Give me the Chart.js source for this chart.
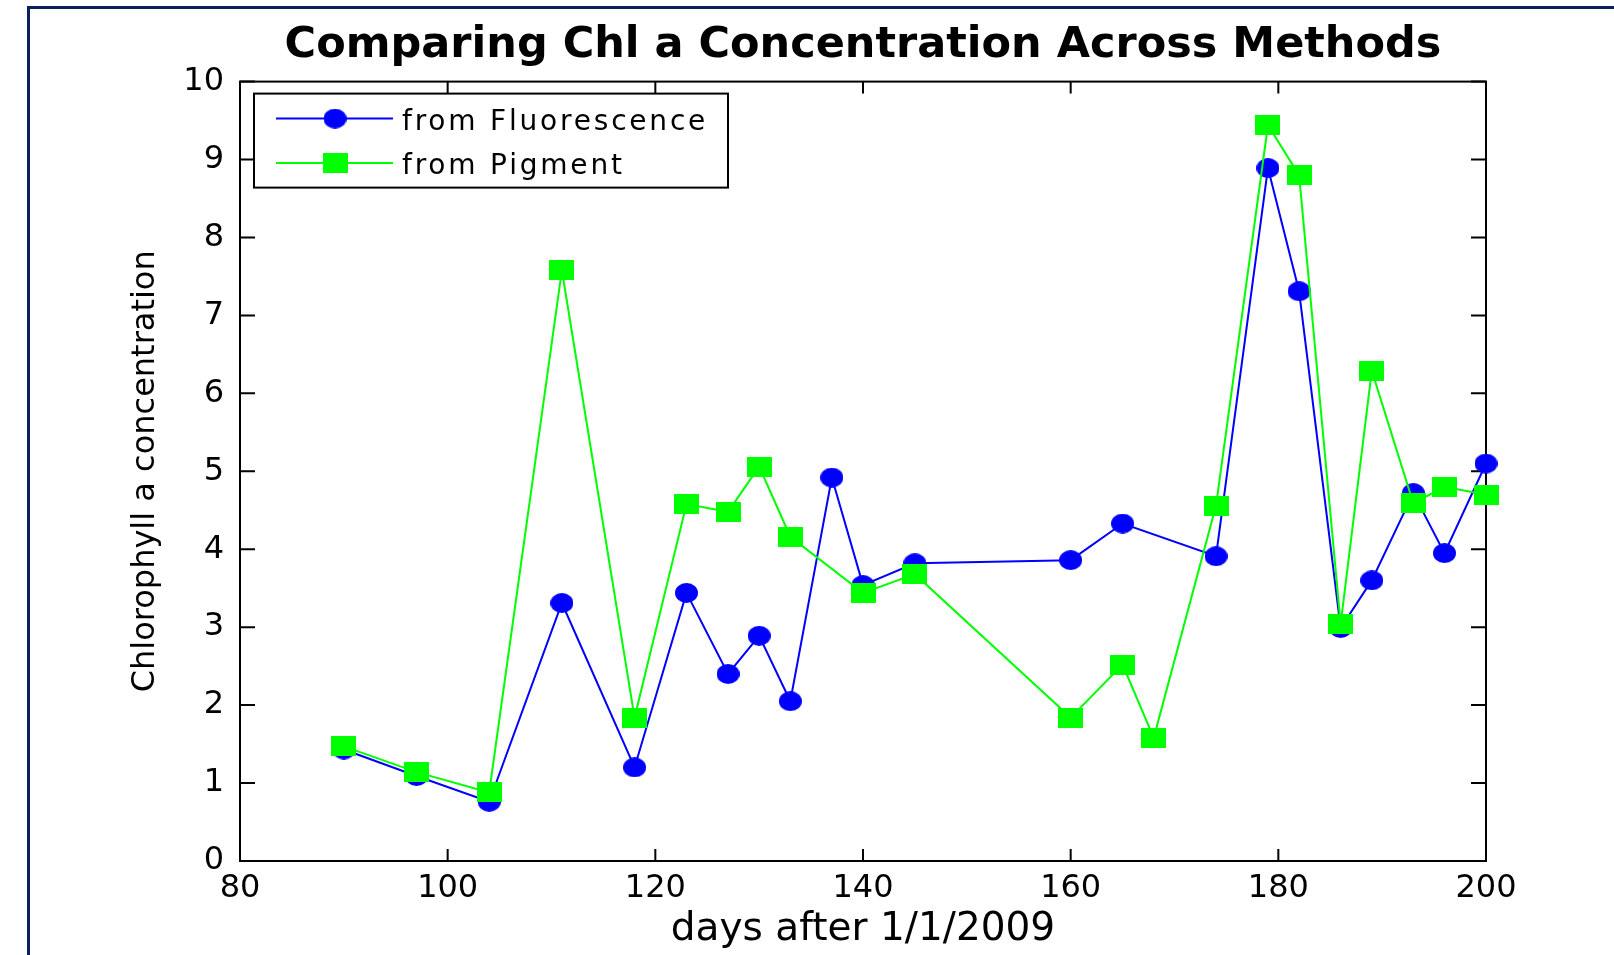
<!DOCTYPE html>
<html>
<head>
<meta charset="utf-8">
<script src="https://cdn.jsdelivr.net/npm/chart.js@4.4.0/dist/chart.umd.min.js"></script>
<style>
  html, body { margin: 0; padding: 0; background: #fff; }
  #wrap { position: relative; width: 1614px; height: 955px; overflow: hidden; }
  #frame { position: absolute; left: 27px; top: 6px; right: -10px; bottom: -10px;
           border-left: 3px solid #0b1f5c; border-top: 3px solid #0b1f5c; }
  canvas { position: absolute; left: 0; top: 0; }
</style>
</head>
<body>
<div id="wrap">
  <div id="frame"></div>
  <canvas id="chart" width="1614" height="955"></canvas>
</div>
<script>
const titleText = 'Comparing Chl a Concentration Across Methods';
const xLabel = 'days after 1/1/2009';
const yLabel = 'Chlorophyll a concentration';

// fluorescence series (blue circles)
const fluorDays   = [90, 97, 104, 111, 118, 123, 127, 130, 133, 137, 140, 145, 160, 165, 174, 179, 182, 186, 189, 193, 196, 200];
const fluorValues = [1.43, 1.09, 0.76, 3.31, 1.20, 3.44, 2.40, 2.89, 2.05, 4.92, 3.54, 3.82, 3.86, 4.33, 3.91, 8.89, 7.31, 2.99, 3.60, 4.72, 3.95, 5.10];

// pigment series (green squares)
const pigmentDays   = [90, 97, 104, 111, 118, 123, 127, 130, 133, 140, 145, 160, 165, 168, 174, 179, 182, 186, 189, 193, 196, 200];
const pigmentValues = [1.47, 1.14, 0.88, 7.58, 1.84, 4.58, 4.48, 5.06, 4.16, 3.44, 3.68, 1.84, 2.52, 1.58, 4.56, 9.44, 8.80, 3.04, 6.29, 4.59, 4.80, 4.70];

const FONT = '"DejaVu Sans", "Liberation Sans", sans-serif';

function makeMarker(shape, color) {
  const c = document.createElement('canvas');
  const g = c.getContext('2d');
  if (shape === 'circle') {
    c.width = 23; c.height = 20;
    g.fillStyle = color;
    g.beginPath();
    g.ellipse(11.5, 10, 11.5, 10, 0, 0, Math.PI * 2);
    g.fill();
  } else {
    c.width = 25; c.height = 20;
    g.fillStyle = color;
    g.fillRect(0, 0, 25, 20);
  }
  return c;
}

function toPoints(days, vals) {
  return days.map((d, i) => ({x: d, y: vals[i]}));
}

// box round the axes, with MATLAB style ticks pointing inwards
const axesBox = {
  id: 'axesBox',
  beforeDatasetsDraw(chart) {
    const {ctx, chartArea: a, scales: {x, y}} = chart;
    ctx.save();
    ctx.strokeStyle = '#000';
    ctx.lineWidth = 2;
    ctx.strokeRect(a.left, a.top, a.right - a.left, a.bottom - a.top);
    ctx.beginPath();
    x.ticks.forEach(t => {
      const px = x.getPixelForValue(t.value);
      ctx.moveTo(px, a.bottom); ctx.lineTo(px, a.bottom - 12);
      ctx.moveTo(px, a.top); ctx.lineTo(px, a.top + 12);
    });
    y.ticks.forEach(t => {
      const py = y.getPixelForValue(t.value);
      ctx.moveTo(a.left, py); ctx.lineTo(a.left + 15, py);
      ctx.moveTo(a.right, py); ctx.lineTo(a.right - 15, py);
    });
    ctx.stroke();
    ctx.restore();
  }
};

// legend box in the upper left corner of the axes
const boxLegend = {
  id: 'boxLegend',
  afterDatasetsDraw(chart) {
    const {ctx, chartArea: a} = chart;
    const left = a.left + 14, top = a.top + 12, w = 474, h = 94;
    ctx.save();
    ctx.fillStyle = '#fff';
    ctx.fillRect(left, top, w, h);
    ctx.strokeStyle = '#000';
    ctx.lineWidth = 2;
    ctx.strokeRect(left, top, w, h);
    ctx.font = '28px ' + FONT;
    ctx.letterSpacing = '2.8px';
    ctx.textBaseline = 'alphabetic';
    chart.data.datasets.forEach((ds, i) => {
      const yy = top + 25 + i * 44.4;
      ctx.strokeStyle = ds.borderColor;
      ctx.lineWidth = ds.borderWidth;
      ctx.beginPath();
      ctx.moveTo(left + 22, yy);
      ctx.lineTo(left + 139, yy);
      ctx.stroke();
      const m = ds.pointStyle;
      ctx.drawImage(m, left + 81 - m.width / 2, yy - m.height / 2);
      ctx.fillStyle = '#000';
      ctx.fillText(ds.label, left + 148, yy + 11);
    });
    ctx.restore();
  }
};

new Chart(document.getElementById('chart'), {
  type: 'line',
  data: {
    datasets: [
      {
        label: 'from Fluorescence',
        data: toPoints(fluorDays, fluorValues),
        borderColor: '#0000ff',
        borderWidth: 2,
        pointStyle: makeMarker('circle', '#0000ff'),
        pointRadius: 12,
        tension: 0,
        clip: false,
        order: 1
      },
      {
        label: 'from Pigment',
        data: toPoints(pigmentDays, pigmentValues),
        borderColor: '#00ff00',
        borderWidth: 2,
        pointStyle: makeMarker('square', '#00ff00'),
        pointRadius: 12,
        tension: 0,
        clip: false,
        order: 0
      }
    ]
  },
  options: {
    responsive: false,
    devicePixelRatio: 1,
    animation: false,
    events: [],
    layout: { padding: { left: 0, right: 128, top: 0, bottom: 0 } },
    plugins: {
      legend: { display: false },
      tooltip: { enabled: false },
      title: {
        display: true,
        text: titleText,
        fullSize: false,
        color: '#000',
        font: { family: FONT, size: 43, weight: 'bold', lineHeight: 1.2 },
        padding: { top: 20, bottom: 10 }
      }
    },
    scales: {
      x: {
        type: 'linear',
        min: 80,
        max: 200,
        grid: { display: false, drawTicks: false },
        border: { display: false },
        ticks: {
          stepSize: 20,
          color: '#000',
          padding: 8.7,
          font: { family: FONT, size: 32, lineHeight: 1.2 }
        },
        title: {
          display: true,
          text: xLabel,
          color: '#000',
          font: { family: FONT, size: 39, lineHeight: 1.2 },
          padding: { top: 0, bottom: 1.7 }
        },
        afterFit(scale) { scale.height = 94; }
      },
      y: {
        type: 'linear',
        min: 0,
        max: 10,
        grid: { display: false, drawTicks: false },
        border: { display: false },
        ticks: {
          stepSize: 1,
          color: '#000',
          padding: 16,
          font: { family: FONT, size: 32, lineHeight: 1.2 }
        },
        title: {
          display: true,
          text: yLabel,
          color: '#000',
          font: { family: FONT, size: 32, lineHeight: 1.2 },
          padding: { top: 126, bottom: 0 }
        },
        afterFit(scale) { scale.width = 240; }
      }
    }
  },
  plugins: [axesBox, boxLegend]
});
</script>
</body>
</html>
